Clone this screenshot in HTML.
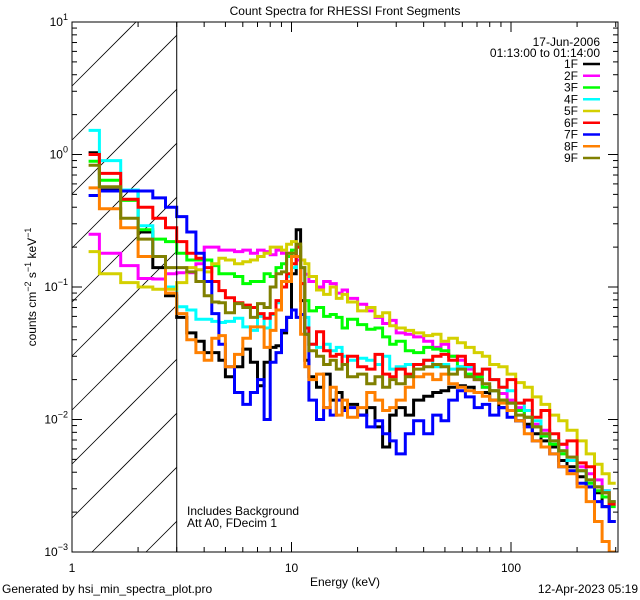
<!DOCTYPE html>
<html><head><meta charset="utf-8"><style>
html,body{margin:0;padding:0;background:#fff;overflow:hidden;width:640px;height:600px}
svg{display:block;overflow:hidden}
text{font-family:"Liberation Sans",sans-serif;font-size:12px;fill:#000}
</style></head><body>
<svg id="chart" width="640" height="600" xmlns="http://www.w3.org/2000/svg">
<defs><clipPath id="plotclip"><rect x="72" y="22" width="546" height="530"/></clipPath></defs>
<text x="345" y="15" text-anchor="middle" font-size="14">Count Spectra for RHESSI Front Segments</text>
<g id="hatch"></g>
<g id="series" clip-path="url(#plotclip)"></g>
<g id="axes"></g>
<text x="187" y="515">Includes Background</text>
<text x="187" y="527">Att A0, FDecim 1</text>
<text x="600" y="46" text-anchor="end">17-Jun-2006</text>
<text x="600" y="57" text-anchor="end">01:13:00 to 01:14:00</text>
<g id="legend"></g>
<text x="345" y="586" text-anchor="middle">Energy (keV)</text>
<text transform="translate(36,287) rotate(-90)" text-anchor="middle">counts cm<tspan dy="-5" font-size="9">−2</tspan><tspan dy="5"> s</tspan><tspan dy="-5" font-size="9">−1</tspan><tspan dy="5"> keV</tspan><tspan dy="-5" font-size="9">−1</tspan></text>
<text x="2" y="593">Generated by hsi_min_spectra_plot.pro</text>
<text x="638" y="593" text-anchor="end">12-Apr-2023 05:19</text>
</svg>
<script>
const edges=[1.19,1.333,1.667,2,2.333,2.667,3,3.333,3.667,4,4.333,4.667,5,5.5,6,6.5,7,7.5,8,8.5,9,9.5,10,10.5,11,11.5,12,13,14,15,16,17,18,20,22,24,26,28,30,33,36,40,44,48,52,57,62,68,74,80,88,96,105,115,125,137,150,165,180,200,220,240,260,280,300];
const segNames=["1F","2F","3F","4F","5F","6F","7F","8F","9F"];
const s1F=[1.03,0.54,0.54,0.26,0.14,0.086,0.059,0.045,0.039,0.032,0.032,0.028,0.021,0.025,0.034,0.027,0.018,0.027,0.035,0.036,0.045,0.059,0.126,0.27,0.079,0.028,0.021,0.0175,0.022,0.014,0.016,0.0123,0.013,0.0108,0.0123,0.0088,0.0062,0.0108,0.0123,0.0108,0.014,0.015,0.016,0.0165,0.0175,0.018,0.0175,0.016,0.016,0.014,0.0123,0.0117,0.0098,0.0092,0.0078,0.0069,0.0062,0.0049,0.0044,0.0037,0.0031,0.0028,0.0022,0.0017];
const s2F=[0.25,0.18,0.145,0.116,0.115,0.126,0.128,0.128,0.15,0.2,0.2,0.19,0.19,0.185,0.19,0.18,0.19,0.185,0.175,0.19,0.18,0.18,0.17,0.16,0.14,0.125,0.11,0.1,0.11,0.106,0.09,0.095,0.082,0.074,0.066,0.059,0.053,0.056,0.045,0.044,0.042,0.039,0.035,0.037,0.03,0.028,0.024,0.02,0.0175,0.0165,0.0157,0.014,0.0123,0.0104,0.0092,0.0083,0.0069,0.0065,0.0052,0.0044,0.0039,0.0035,0.0029,0.0024];
const s3F=[0.89,0.64,0.45,0.27,0.23,0.22,0.18,0.16,0.16,0.16,0.145,0.126,0.126,0.12,0.106,0.11,0.11,0.126,0.12,0.14,0.15,0.17,0.19,0.2,0.106,0.079,0.066,0.07,0.06,0.062,0.059,0.049,0.057,0.052,0.048,0.049,0.042,0.037,0.039,0.033,0.032,0.035,0.034,0.033,0.03,0.025,0.022,0.021,0.0175,0.0165,0.014,0.0133,0.0117,0.0104,0.0088,0.0075,0.0065,0.0055,0.0049,0.0041,0.0033,0.0029,0.0026,0.0022];
const s4F=[1.52,0.9,0.54,0.29,0.17,0.1,0.071,0.067,0.057,0.057,0.055,0.054,0.055,0.058,0.05,0.047,0.06,0.049,0.062,0.076,0.1,0.12,0.14,0.2,0.14,0.059,0.037,0.035,0.037,0.033,0.035,0.03,0.028,0.029,0.028,0.026,0.03,0.024,0.025,0.026,0.026,0.028,0.025,0.026,0.024,0.025,0.025,0.022,0.024,0.02,0.0175,0.0165,0.0133,0.0117,0.0098,0.0078,0.0069,0.0058,0.0049,0.0041,0.0035,0.0031,0.0029,0.0024];
const s5F=[0.185,0.126,0.108,0.1,0.096,0.096,0.108,0.14,0.135,0.13,0.15,0.165,0.16,0.15,0.155,0.16,0.17,0.18,0.2,0.2,0.19,0.21,0.22,0.21,0.16,0.15,0.12,0.095,0.088,0.1,0.082,0.088,0.077,0.066,0.07,0.06,0.064,0.051,0.049,0.047,0.045,0.043,0.044,0.039,0.041,0.038,0.035,0.032,0.03,0.026,0.025,0.022,0.019,0.0175,0.0148,0.013,0.0108,0.0098,0.0083,0.0069,0.0055,0.0046,0.0039,0.0033];
const s6F=[1.0,0.72,0.46,0.4,0.33,0.28,0.22,0.18,0.165,0.14,0.11,0.094,0.083,0.076,0.073,0.07,0.063,0.058,0.063,0.079,0.1,0.126,0.15,0.2,0.106,0.049,0.037,0.046,0.033,0.03,0.031,0.026,0.03,0.025,0.024,0.031,0.022,0.021,0.024,0.022,0.026,0.028,0.03,0.031,0.028,0.03,0.026,0.022,0.024,0.02,0.0175,0.02,0.0133,0.014,0.0104,0.0117,0.0078,0.0065,0.0069,0.0047,0.0044,0.0031,0.0028,0.0023];
const s7F=[0.49,0.53,0.53,0.53,0.47,0.4,0.34,0.26,0.18,0.11,0.063,0.037,0.025,0.016,0.013,0.016,0.02,0.01,0.027,0.032,0.047,0.059,0.067,0.059,0.062,0.044,0.014,0.01,0.0123,0.0108,0.014,0.0117,0.0123,0.0108,0.0088,0.0098,0.0078,0.0069,0.0055,0.0078,0.0098,0.0078,0.0108,0.0098,0.014,0.0165,0.0148,0.0123,0.013,0.0108,0.0123,0.0104,0.0098,0.0088,0.0069,0.0062,0.0055,0.0044,0.0041,0.0033,0.0031,0.0024,0.0022,0.0017];
const s8F=[0.56,0.39,0.28,0.17,0.17,0.09,0.063,0.04,0.032,0.028,0.041,0.043,0.025,0.031,0.041,0.05,0.05,0.035,0.047,0.067,0.11,0.11,0.17,0.17,0.044,0.025,0.02,0.022,0.0123,0.0175,0.0108,0.014,0.0104,0.0123,0.016,0.014,0.0117,0.0123,0.014,0.0175,0.021,0.022,0.02,0.022,0.0186,0.0175,0.0165,0.016,0.015,0.014,0.0133,0.0117,0.0098,0.0078,0.0069,0.0062,0.0055,0.0044,0.0039,0.0031,0.0024,0.0017,0.0012,0.001];
const s9F=[0.83,0.57,0.33,0.23,0.17,0.14,0.14,0.13,0.11,0.086,0.077,0.076,0.064,0.075,0.07,0.059,0.075,0.07,0.1,0.126,0.13,0.18,0.18,0.21,0.14,0.044,0.033,0.03,0.026,0.028,0.024,0.026,0.021,0.022,0.0186,0.021,0.0175,0.02,0.0186,0.021,0.024,0.025,0.026,0.025,0.022,0.024,0.021,0.02,0.0186,0.0165,0.014,0.0133,0.0108,0.0104,0.0088,0.0078,0.0069,0.0058,0.0052,0.0041,0.0035,0.0031,0.0028,0.0024];
const seriesData=[s1F,s2F,s3F,s4F,s5F,s6F,s7F,s8F,s9F];
const colors=["#000000","#ff00ff","#00ff00","#00ffff","#d4d000","#ff0000","#0000ff","#ff8000","#808000"];
const xTicksMajor=[1,10,100];
const xTickLabels=["1","10","100"];
const yDecades=[-3,-2,-1,0,1];

const L=72,R=618,T=22,B=552;
const xDec=219.5, yDec=(B-T)/4;
const xs=e=>L+Math.log10(e)*xDec;
const ys=v=>B-(Math.log10(v)+3)*yDec;
const NS="http://www.w3.org/2000/svg";
function mk(tag,attrs,parent){const el=document.createElementNS(NS,tag);for(const k in attrs)el.setAttribute(k,attrs[k]);parent.appendChild(el);return el;}

// hatch: lines y = k - (x - L), clipped analytically to [L,X3]x[T,B]
const hatch=document.getElementById('hatch');
const X3=xs(3);
for(let k=T+64;k<B+(X3-L);k+=54){
  let xa=L, ya=k;
  if(ya>B){xa=L+(ya-B);ya=B;}
  let xb=X3, yb=k-(X3-L);
  if(yb<T){xb=L+(k-T);yb=T;}
  if(xa>=xb)continue;
  const ln=mk('line',{x1:xa.toFixed(1),y1:ya.toFixed(1),x2:xb.toFixed(1),y2:yb.toFixed(1),stroke:'#000','stroke-width':0.8},hatch);
  
  
}
const vl=mk('line',{x1:X3,y1:T,x2:X3,y2:B,stroke:'#000','stroke-width':1},document.getElementById('axes'));



const sg=document.getElementById('series');
seriesData.forEach((vals,i)=>{
  let d='';
  vals.forEach((v,j)=>{
    const x0=xs(edges[j]),x1=Math.min(xs(edges[j+1]),R),y=Math.min(ys(v),B);
    d+=(j===0?'M':'L')+x0.toFixed(1)+','+y.toFixed(1)+'L'+x1.toFixed(1)+','+y.toFixed(1);
  });
  const p=mk('path',{d:d,fill:'none',stroke:colors[i],'stroke-width':3,'stroke-linejoin':'miter'},sg);
  
  
});

const ax=document.getElementById('axes');
const frame=mk('rect',{x:L,y:T,width:R-L,height:B-T,fill:'none',stroke:'#000','stroke-width':1},ax);


for(let dec=0;dec<3;dec++){
  for(let m=1;m<10;m++){
    const e=m*Math.pow(10,dec);
    const x=xs(e); if(x>R)continue;
    const len=m===1?10:5;
    mk('line',{x1:x,y1:B,x2:x,y2:B-len,stroke:'#000'},ax);
    mk('line',{x1:x,y1:T,x2:x,y2:T+len,stroke:'#000'},ax);
  }
}
xTicksMajor.forEach((e,i)=>{
  const t=mk('text',{x:xs(e),y:B+20,'text-anchor':'middle'},ax);t.textContent=xTickLabels[i];
  
  
});
yDecades.forEach(p=>{
  for(let m=1;m<10;m++){
    if(p===1&&m>1)break;
    const y=ys(m*Math.pow(10,p));
    const len=m===1?10:5;
    mk('line',{x1:L,y1:y,x2:L+len,y2:y,stroke:'#000'},ax);
    mk('line',{x1:R,y1:y,x2:R-len,y2:y,stroke:'#000'},ax);
  }
  const t=mk('text',{x:L-4,y:ys(Math.pow(10,p))+4,'text-anchor':'end'},ax);
  
  
  t.innerHTML='10<tspan dy="-6" font-size="9">'+(p<0?'−'+(-p):p)+'</tspan>';
});

const lg=document.getElementById('legend');
segNames.forEach((n,i)=>{
  const y=64+i*11.75;
  const t=mk('text',{x:578,y:y+4,'text-anchor':'end'},lg);t.textContent=n;
  
  
  const l=mk('line',{x1:583,y1:y,x2:600,y2:y,stroke:colors[i],'stroke-width':2.5},lg);
  
  
});
</script>
</body></html>
